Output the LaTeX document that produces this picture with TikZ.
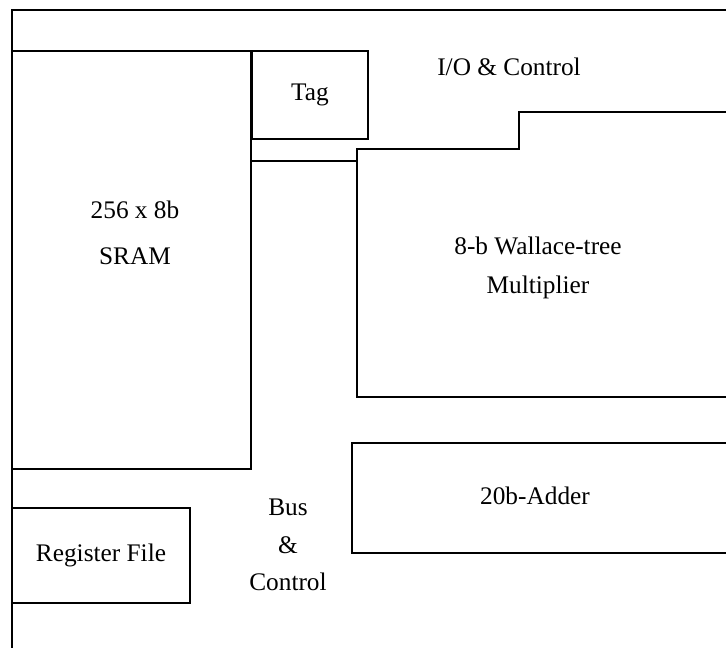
\documentclass[tikz,border=0pt]{standalone}
\usepackage{fontspec}
\setmainfont{Liberation Serif}
\usepackage{tikz}
\usetikzlibrary{%
	calc,%
	positioning,%
}
\tikzset{%
	nodes={align=center},%
	blk/.style={%
			draw,%
			rectangle,%
			line width=1.4pt,%
			inner sep=0},%
	txt/.style={%
			font={\fontsize{18}{28}\selectfont},%
			inner sep=0},%
	wire/.style={%
			line width=1.4pt,%
			line join=miter},%
}

\begin{document}
\begin{tikzpicture}[x=0.025cm, y=-0.025cm, nodes={font={\fontsize{18}{28}\selectfont}}]%
	\useasboundingbox (0,0) rectangle (726,647);
	\draw[wire] (12,660) -- (12,10) -- (740,10);

	\node[blk, minimum width=5.975cm, minimum height=10.45cm] (sram) at (131.5,260) {};
	\node[blk, minimum width=2.9cm, minimum height=2.2cm] (tag) at (310,95) {Tag};
	\node[blk, minimum width=4.45cm, minimum height=2.375cm] (rf) at (101,555.5) {Register File};
	\node[blk, minimum width=9.7cm, minimum height=2.75cm] (add) at (546,498) {};

	\node[txt, font={\fontsize{18}{32.6}\selectfont}] (sramtxt) at (135,233) {256 x 8b\\SRAM};
	\node[txt, anchor=base] (io) at (509,75) {I/O \& Control};
	\node[txt] (multxt) at (538,268) {8-b Wallace-tree\\Multiplier};
	\node[txt] (addtxt) at (535,496) {20b-Adder};
	\node[txt, font={\fontsize{18}{26.6}\selectfont}] (bus) at (288,545) {Bus\\\&\\Control};

	% multiplier outline
	\coordinate (mulw) at (357,161);
	\draw[wire] (740,397) -- (357,397) -- (357,149) -- (519,149) -- (519,112) -- (740,112);
	\draw[wire] (sram.east |- mulw) -- (mulw);
\end{tikzpicture}
\end{document}
